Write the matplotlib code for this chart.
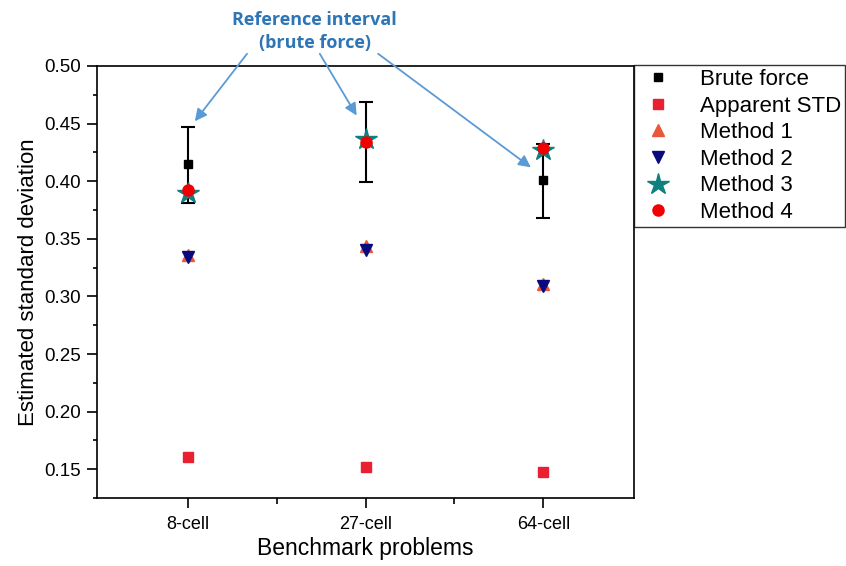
import matplotlib.pyplot as plt
from matplotlib.ticker import MultipleLocator, FixedLocator

plt.rcParams['font.family'] = ['Liberation Sans', 'DejaVu Sans']

problems = ['8-cell', '27-cell', '64-cell']
brute_force = [0.415, 0.434, 0.401]
brute_lo = [0.381, 0.399, 0.368]
brute_hi = [0.447, 0.469, 0.432]
apparent_std = [0.161, 0.152, 0.148]
method1 = [0.336, 0.344, 0.311]
method2 = [0.334, 0.340, 0.309]
method3 = [0.390, 0.437, 0.427]
method4 = [0.392, 0.434, 0.429]

x = list(range(len(problems)))

fig = plt.figure(figsize=(8.46, 5.66), dpi=100)
ax = fig.add_axes([0.1147, 0.12, 0.6347, 0.7634])

yerr = [[b - l for b, l in zip(brute_force, brute_lo)],
        [h - b for b, h in zip(brute_force, brute_hi)]]
ax.errorbar(x, brute_force, yerr=yerr, fmt='none', ecolor='black',
            elinewidth=1.5, capsize=5, capthick=1.5, zorder=2)
ax.plot(x, brute_force, 's', color='black', ms=6, label='Brute force', zorder=3)
ax.plot(x, apparent_std, 's', color='#E8202F', ms=7, label='Apparent STD', zorder=3)
ax.plot(x, method1, '^', color='#E8583A', ms=8, label='Method 1', zorder=3)
ax.plot(x, method2, 'v', color='#0A0A80', ms=8, label='Method 2', zorder=3)
ax.plot(x, method3, '*', color='#0F7F7F', ms=16, label='Method 3', zorder=3)
ax.plot(x, method4, 'o', color='#F00000', ms=8, label='Method 4', zorder=4)

ax.set_xlim(-0.51, 2.51)
ax.set_ylim(0.125, 0.50)
ax.set_xticks(x)
ax.set_xticklabels(problems)
ax.xaxis.set_minor_locator(FixedLocator([0.5, 1.5]))
ax.yaxis.set_major_locator(MultipleLocator(0.05))
ax.yaxis.set_minor_locator(MultipleLocator(0.025))
ax.tick_params(axis='both', which='both', direction='out', labelsize=13.5, width=1.2)
ax.tick_params(axis='x', which='major', length=7, pad=6, labelsize=13)
ax.tick_params(axis='x', which='minor', length=4.3)
ax.tick_params(axis='y', which='major', length=7.2, pad=4.3)
ax.tick_params(axis='y', which='minor', length=3)
for s in ax.spines.values():
    s.set_linewidth(1.2)
ax.set_xlabel('Benchmark problems', fontsize=16.5, labelpad=3)
ax.set_ylabel('Estimated standard deviation', fontsize=16, labelpad=4)

leg = ax.legend(loc='upper left', bbox_to_anchor=(1.0, 1.003), fontsize=16,
                frameon=True, fancybox=False, edgecolor='black',
                handletextpad=0.95, borderpad=0.2, labelspacing=0.25,
                handlelength=1.8, borderaxespad=0, numpoints=1)
leg.get_frame().set_linewidth(1.0)

arrow_color = '#5B9BD5'
fig.text(0.372, 0.945, 'Reference interval\n(brute force)', ha='center', va='center',
         fontsize=13, fontweight='bold', color='#2E75B6', linespacing=1.35,
         family=['Open Sans', 'DejaVu Sans'])
targets = [(0.04, 0.452), (0.95, 0.457), (1.93, 0.412)]
starts = [(0.292, 0.905), (0.378, 0.905), (0.447, 0.905)]
for (tx, ty), (sx, sy) in zip(targets, starts):
    ax.annotate('', xy=(tx, ty), xycoords='data', xytext=(sx, sy),
                textcoords='figure fraction',
                arrowprops=dict(arrowstyle='-|>', color=arrow_color, lw=1.3,
                                mutation_scale=18, shrinkA=0, shrinkB=0),
                annotation_clip=False)

fig.savefig('out.png', dpi=100)
